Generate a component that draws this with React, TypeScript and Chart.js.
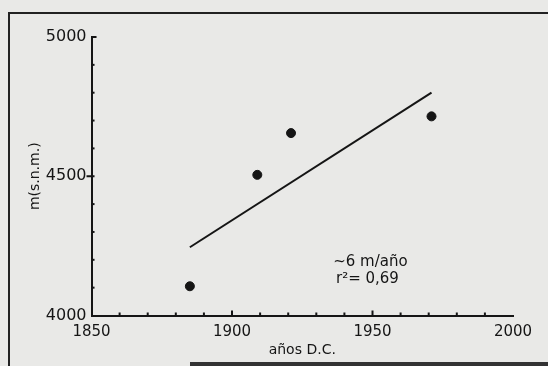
import { useEffect, useRef } from "react";
import { Chart, registerables } from "chart.js";

Chart.register(...registerables);

// Observations (year AD, altitude m a.s.l.)
const years = [1885, 1909, 1921, 1971];
const altitudes = [4105, 4505, 4655, 4715];
// Regression line end points
const trendYears = [1885, 1971];
const trendAltitudes = [4245, 4800];
// Labelled ticks
const xTickLabels = [1850, 1900, 1950, 2000];
const yTickLabels = [4000, 4500, 5000];
// Annotation text
const annotationLines = ["~6 m/año", "r²= 0,69"];

const INK = "#151515";
const FONT = "'DejaVu Sans', sans-serif";

const ticksPlugin = {
  id: "inwardTicks",
  afterDatasetsDraw(chart: any) {
    const { ctx } = chart;
    const xs = chart.scales.x;
    const ys = chart.scales.y;
    ctx.save();
    ctx.strokeStyle = INK;
    ctx.lineWidth = 2;
    // x minor / major ticks, pointing up
    for (let v = 1860; v < 2000; v += 10) {
      const px = xs.getPixelForValue(v);
      const len = v % 50 === 0 ? 5 : 3;
      ctx.beginPath();
      ctx.moveTo(px, xs.top);
      ctx.lineTo(px, xs.top - len);
      ctx.stroke();
    }
    // y minor ticks, pointing right
    for (let v = 4100; v < 5000; v += 100) {
      const py = ys.getPixelForValue(v);
      ctx.beginPath();
      ctx.moveTo(ys.right, py);
      ctx.lineTo(ys.right + 3, py);
      ctx.stroke();
    }
    // 4500 outward tick
    const p45 = ys.getPixelForValue(4500);
    ctx.beginPath();
    ctx.moveTo(ys.right - 5, p45);
    ctx.lineTo(ys.right, p45);
    ctx.stroke();
    // 5000 top tick
    const p50 = ys.getPixelForValue(5000);
    ctx.beginPath();
    ctx.moveTo(ys.right, p50);
    ctx.lineTo(ys.right + 5, p50);
    ctx.stroke();
    // annotation
    ctx.fillStyle = INK;
    ctx.font = `15px ${FONT}`;
    ctx.textAlign = "left";
    ctx.textBaseline = "middle";
    ctx.fillText(annotationLines[0], xs.getPixelForValue(1936), ys.getPixelForValue(4190));
    ctx.fillText(annotationLines[1], xs.getPixelForValue(1937), ys.getPixelForValue(4132));
    ctx.restore();
  },
};

export default function App() {
  const ref = useRef<HTMLCanvasElement | null>(null);

  useEffect(() => {
    document.body.style.margin = "0";
    const canvas = ref.current;
    if (!canvas) return;
    const chart = new Chart(canvas, {
      type: "scatter",
      data: {
        datasets: [
          {
            type: "line",
            label: "tendencia",
            data: trendYears.map((x, i) => ({ x, y: trendAltitudes[i] })),
            borderColor: INK,
            borderWidth: 2,
            pointRadius: 0,
            fill: false,
          },
          {
            type: "scatter",
            label: "observaciones",
            data: years.map((x, i) => ({ x, y: altitudes[i] })),
            backgroundColor: INK,
            borderColor: INK,
            pointRadius: 4.5,
          },
        ],
      },
      options: {
        responsive: false,
        animation: false,
        layout: { padding: { left: 23, right: 35, top: 37, bottom: 9 } },
        plugins: { legend: { display: false }, tooltip: { enabled: false } },
        scales: {
          x: {
            type: "linear",
            min: 1850,
            max: 2000,
            afterFit: (scale: any) => {
              scale.height = 41.5;
            },
            grid: { display: false, drawTicks: false },
            border: { display: true, color: INK, width: 2 },
            ticks: {
              stepSize: 10,
              autoSkip: false,
              maxRotation: 0,
              padding: 9,
              color: INK,
              font: { family: FONT, size: 15, lineHeight: 1 },
              callback: (v: any) => (xTickLabels.includes(Number(v)) ? String(v) : ""),
            },
            title: {
              display: true,
              text: "años D.C.",
              color: INK,
              font: { family: FONT, size: 14, lineHeight: 1 },
              padding: { top: 0, bottom: 0 },
            },
          },
          y: {
            type: "linear",
            min: 4000,
            max: 5000,
            grid: { display: false, drawTicks: false },
            border: { display: true, color: INK, width: 2 },
            ticks: {
              stepSize: 100,
              autoSkip: false,
              padding: 5,
              color: INK,
              font: { family: FONT, size: 16 },
              callback: (v: any) => (yTickLabels.includes(Number(v)) ? String(v) : ""),
            },
            title: {
              display: true,
              text: "m(s.n.m.)",
              color: INK,
              font: { family: FONT, size: 14 },
              padding: { top: 4, bottom: -3 },
            },
          },
        },
      },
      plugins: [ticksPlugin],
    });
    return () => chart.destroy();
  }, []);

  return (
    <div
      style={{
        position: "fixed",
        left: 0,
        top: 0,
        width: 548,
        height: 366,
        overflow: "hidden",
        background: "#e9e9e7",
      }}
    >
      <div
        style={{
          position: "absolute",
          left: 8,
          top: 12,
          width: 560,
          height: 380,
          borderTop: "2px solid #222",
          borderLeft: "2px solid #222",
        }}
      />
      <div
        style={{
          position: "absolute",
          left: 190,
          top: 362,
          width: 400,
          height: 4,
          background: "#333",
        }}
      />
      <canvas ref={ref} width={548} height={366} style={{ position: "absolute", left: 0, top: 0 }} />
    </div>
  );
}
